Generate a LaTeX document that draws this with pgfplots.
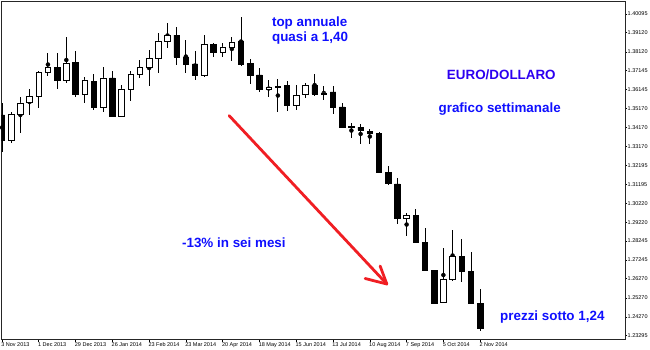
\documentclass[border=0pt]{standalone}
\usepackage{pgfplots}
\pgfplotsset{compat=1.18}
\usepackage{pgfplotstable}
\usepackage{fontspec}
\setmainfont{Liberation Sans}
\definecolor{txtblue}{RGB}{15,15,255}
\definecolor{eurblue}{RGB}{45,0,240}
\definecolor{arrowred}{RGB}{240,30,35}

\pgfplotstableread{
x o h l c
0 1.34821 1.35448 1.32889 1.33515
1 1.33515 1.34978 1.33359 1.34873
2 1.34873 1.35761 1.33881 1.35448
3 1.35500 1.36179 1.34821 1.35813
4 1.35813 1.37119 1.35186 1.37066
5 1.37066 1.38058 1.36857 1.37327
6 1.37327 1.38058 1.36179 1.36649
7 1.36649 1.38894 1.36492 1.37536
8 1.37588 1.38163 1.35761 1.35918
9 1.35918 1.36805 1.35448 1.36649
10 1.36596 1.36962 1.35082 1.35239
11 1.35239 1.37327 1.34978 1.36753
12 1.36753 1.37119 1.34716 1.34769
13 1.34769 1.36387 1.34716 1.36179
14 1.36179 1.37119 1.35552 1.36962
15 1.36962 1.37693 1.36753 1.37327
16 1.37327 1.38215 1.36335 1.37797
17 1.37797 1.39103 1.37014 1.38685
18 1.38685 1.39625 1.38320 1.38998
19 1.38998 1.39416 1.37432 1.37850
20 1.37850 1.38737 1.37014 1.37484
21 1.37484 1.38163 1.36649 1.36910
22 1.36910 1.38998 1.36805 1.38528
23 1.38528 1.38581 1.37850 1.38111
24 1.38111 1.38581 1.37850 1.38372
25 1.38372 1.38894 1.37641 1.38633
26 1.38685 1.39938 1.37380 1.37484
27 1.37536 1.37745 1.36440 1.36910
28 1.36910 1.37275 1.36022 1.36179
29 1.36179 1.36649 1.35761 1.36283
30 1.36283 1.36701 1.34978 1.36335
31 1.36387 1.36596 1.35030 1.35343
32 1.35343 1.36387 1.35082 1.35865
33 1.35918 1.36492 1.35709 1.36387
34 1.36387 1.36962 1.35813 1.35918
35 1.35918 1.36335 1.35604 1.35970
36 1.36022 1.36335 1.34873 1.35239
37 1.35239 1.35448 1.34142 1.34194
38 1.34246 1.34403 1.33620 1.34194
39 1.34194 1.34351 1.33307 1.34038
40 1.33985 1.34090 1.33307 1.33881
41 1.33881 1.33933 1.31792 1.31844
42 1.31844 1.32158 1.31166 1.31270
43 1.31218 1.31531 1.29129 1.29442
44 1.29442 1.29703 1.28502 1.29599
45 1.29599 1.29912 1.28189 1.28189
46 1.28189 1.28920 1.26727 1.26727
47 1.26727 1.26727 1.24951 1.25004
48 1.25056 1.27876 1.25056 1.26257
49 1.26257 1.28816 1.26153 1.27458
50 1.27458 1.28346 1.26100 1.26675
51 1.26675 1.27667 1.25004 1.25004
52 1.25004 1.25735 1.23542 1.23698
}\candles

\pgfplotsset{
  mybase/.style={
    scale only axis,
    width=623.5pt, height=337.8pt,
    xmin=-0.05, xmax=67.75,
    ymin=1.23098, ymax=1.40737,
  }
}

\begin{document}
\begin{tikzpicture}
\begin{axis}[
  mybase,
  name=ax,
  axis line style={black!85, line width=0.8pt},
  xtick={0,4,...,52},
  xticklabels={3 Nov 2013, 1 Dec 2013, 29 Dec 2013, 26 Jan 2014, 23 Feb 2014, 23 Mar 2014, 20 Apr 2014, 18 May 2014, 15 Jun 2014, 13 Jul 2014, 10 Aug 2014, 7 Sep 2014, 5 Oct 2014, 2 Nov 2014},
  ytick={1.23295,1.24270,1.25270,1.26270,1.27245,1.28245,1.29220,1.30220,1.31195,1.32195,1.33170,1.34170,1.35170,1.36145,1.37145,1.38120,1.39120,1.40095},
  yticklabels={1.23295,1.24270,1.25270,1.26270,1.27245,1.28245,1.29220,1.30220,1.31195,1.32195,1.33170,1.34170,1.35170,1.36145,1.37145,1.38120,1.39120,1.40095},
  xtick pos=bottom, ytick pos=right,
  yticklabel pos=right,
  tick align=outside,
  major tick length=2pt,
  tick style={black, line width=0.6pt},
  xticklabel style={font=\fontsize{5.5}{6}\selectfont, anchor=north west, inner sep=0pt, xshift=-0.8pt, yshift=-1pt},
  yticklabel style={font=\fontsize{5.5}{6}\selectfont, anchor=west, inner sep=0pt, xshift=0.5pt},
]
\addplot [only marks, mark=none, forget plot,
  error bars/.cd, y dir=both, y explicit, error mark=none,
  error bar style={draw=black, solid, line width=0.9pt}]
  table [x=x, y expr={(\thisrow{h}+\thisrow{l})/2}, y error expr={(\thisrow{h}-\thisrow{l})/2}] {\candles};
\end{axis}

\begin{axis}[
  mybase,
  hide axis,
  ybar stacked,
  bar width=5.5pt,
]
\addplot [draw=none, fill=none, forget plot]
  table [x=x, y expr={min(\thisrow{o},\thisrow{c})}] {\candles};
\addplot [draw=black, fill=black, line width=0.7pt, forget plot]
  table [x=x, y expr={max(\thisrow{o}-\thisrow{c},0)}] {\candles};
\addplot [draw=black, fill=white, line width=0.7pt, forget plot]
  table [x=x, y expr={max(\thisrow{c}-\thisrow{o},0)}] {\candles};

\draw[arrowred, line width=2.8pt, line cap=round, line join=round] (axis cs:24.71,1.34784) -- (axis cs:41.85,1.25996);
\draw[arrowred, line width=2.8pt, line cap=round, line join=round] (axis cs:41.12,1.26936) -- (axis cs:41.85,1.25996) -- (axis cs:39.49,1.26283);

\node[anchor=base west, inner sep=0pt, txtblue, font=\fontsize{13.4}{15}\selectfont\bfseries] at (axis cs:29.35,1.39468) {top annuale};
\node[anchor=base west, inner sep=0pt, txtblue, font=\fontsize{13.4}{15}\selectfont\bfseries] at (axis cs:29.35,1.38649) {quasi a 1,40};
\node[anchor=base west, inner sep=0pt, eurblue, font=\fontsize{13.4}{15}\selectfont\bfseries] at (axis cs:48.37,1.36649) {EURO/DOLLARO};
\node[anchor=base west, inner sep=0pt, txtblue, font=\fontsize{13.4}{15}\selectfont\bfseries] at (axis cs:47.46,1.34962) {grafico settimanale};
\node[anchor=base west, inner sep=0pt, txtblue, font=\fontsize{13.4}{15}\selectfont\bfseries] at (axis cs:19.57,1.27891) {-13\% in sei mesi};
\node[anchor=base west, inner sep=0pt, txtblue, font=\fontsize{13.4}{15}\selectfont\bfseries] at (axis cs:54.16,1.24116) {prezzi sotto 1,24};
\end{axis}

\pgfresetboundingbox
\path ([shift={(-1.5pt,-9.5pt)}]ax.south west) rectangle ([shift={(25pt,1.7pt)}]ax.north east);
\end{tikzpicture}
\end{document}
